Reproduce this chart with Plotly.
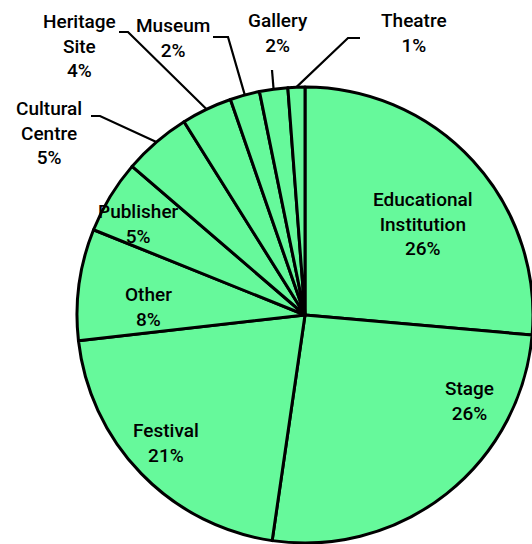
import math
import plotly.graph_objects as go

# ---- data ----
categories = ["Educational Institution", "Stage", "Festival", "Other", "Publisher",
              "Cultural Centre", "Heritage Site", "Museum", "Gallery", "Theatre"]
display_labels = ["Educational<br>Institution", "Stage", "Festival", "Other", "Publisher",
                  "Cultural<br>Centre", "Heritage<br>Site", "Museum", "Gallery", "Theatre"]
values = [26.4, 25.9, 20.9, 7.9, 5.2, 4.8, 3.6, 2.1, 2.0, 1.2]

# ---- layout geometry (pixels) ----
W, H = 620, 620
L, T = 77, 87
PW = PH = 456
R_ = 0.5 * PW
CX, CY = L + PW / 2, T + PH / 2
B = H - T - PH
RM = W - L - PW

GREEN = "#66f99b"
FONT = dict(family="Roboto, sans-serif", size=19, color="black", weight=500)

# label centers (px) and leader elbows (px) for outside labels
label_pos = {
    "Educational Institution": (423, 224),
    "Stage": (469, 401),
    "Festival": (166, 443),
    "Other": (148, 307),
    "Publisher": (138, 224),
    "Cultural Centre": (49, 133),
    "Heritage Site": (79, 46),
    "Museum": (173, 38),
    "Gallery": (278, 33),
    "Theatre": (414, 33),
}
leaders = {
    "Cultural Centre": [(100, 116), (91, 116)],
    "Heritage Site": [(128, 32), (119, 32)],
    "Museum": [(228, 37), (213, 37)],
    "Gallery": [(272, 70)],
    "Theatre": [(348, 38), (360, 38)],
}


def to_paper(px, py):
    return (px - L) / PW, 1 - (py - T) / PH


fig = go.Figure(go.Pie(
    labels=categories,
    values=values,
    sort=False,
    direction="clockwise",
    rotation=0,
    textinfo="none",
    hoverinfo="label+percent",
    marker=dict(colors=[GREEN] * len(values), line=dict(color="black", width=3)),
    showlegend=False,
))

total = sum(values)
cum = 0.0
annotations = []
shapes = []
for cat, disp, v in zip(categories, display_labels, values):
    mid = (cum + v / 2) / total * 2 * math.pi
    cum += v
    pct = round(v / total * 100)
    lx, ly = label_pos[cat]
    ax, ay = to_paper(lx, ly)
    annotations.append(dict(
        x=ax, y=ay, xref="paper", yref="paper", text=f"{disp}<br>{pct}%",
        showarrow=False, xanchor="center", yanchor="middle", align="center",
        font=FONT,
    ))
    if cat in leaders:
        sx = CX + R_ * math.sin(mid)
        sy = CY - R_ * math.cos(mid)
        pts = [(sx, sy)] + leaders[cat]
        path = "M " + " L ".join(
            "{:.5f},{:.5f}".format(*to_paper(px, py)) for px, py in pts)
        shapes.append(dict(type="path", path=path, xref="paper", yref="paper",
                           line=dict(color="black", width=2.2), layer="below"))

fig.update_layout(
    width=W, height=H,
    margin=dict(l=L, r=RM, t=T, b=B, pad=0, autoexpand=False),
    paper_bgcolor="white", plot_bgcolor="white",
    annotations=annotations, shapes=shapes,
)

fig.write_html("out.html",
               post_script="document.body.style.margin='0';document.body.style.overflow='hidden';")
